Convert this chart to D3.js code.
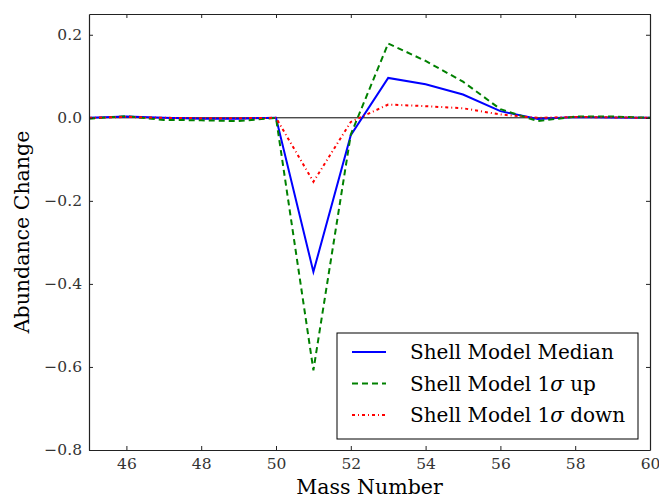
<!DOCTYPE html>
<html>
<head>
<meta charset="utf-8">
<script src="https://cdn.jsdelivr.net/npm/d3@7"></script>
<style>
  body { margin: 0; background: #fff; }
  text { font-family: "DejaVu Serif", "Liberation Serif", serif; }
</style>
</head>
<body>
<svg id="chart" width="659" height="500"></svg>
<script>
// mass numbers and abundance changes
const massNumbers = [45, 46, 47, 48, 49, 50, 51, 52, 53, 54, 55, 56, 57, 58, 59, 60];
const median   = [0.000, 0.003, 0.000, -0.002, -0.002, 0.000, -0.371, -0.042, 0.096, 0.081, 0.056, 0.016, -0.003, 0.002, 0.001, 0.000];
const sigmaUp  = [-0.002, 0.004, -0.005, -0.006, -0.008, 0.000, -0.608, -0.040, 0.179, 0.137, 0.087, 0.021, -0.008, 0.003, 0.003, 0.000];
const sigmaDn  = [0.000, 0.002, 0.000, -0.001, -0.001, 0.000, -0.154, -0.010, 0.032, 0.028, 0.023, 0.008, 0.000, 0.002, 0.001, 0.000];
const xTicks = [46, 48, 50, 52, 54, 56, 58, 60];
const yTicks = [-0.8, -0.6, -0.4, -0.2, 0.0, 0.2];

const svg = d3.select("#chart");
const margin = {left: 89, right: 9, top: 14, bottom: 50};
const width = 659, height = 500;

const x = d3.scaleLinear().domain([45, 60]).range([margin.left, width - margin.right]);
const y = d3.scaleLinear().domain([-0.8, 0.25]).range([height - margin.bottom, margin.top]);

const fmtY = d => d === 0 ? "0.0" : (d < 0 ? "\u2212" + Math.abs(d).toFixed(1) : d.toFixed(1));

// zero line
svg.append("line")
    .attr("x1", x(45)).attr("x2", x(60))
    .attr("y1", y(0)).attr("y2", y(0))
    .attr("stroke", "black").attr("stroke-width", 1);

// series
const series = [
  {name: "median", vals: median, color: "blue", dash: null},
  {name: "up", vals: sigmaUp, color: "green", dash: "6,4"},
  {name: "down", vals: sigmaDn, color: "red", dash: "3,3,1,3"}
];

const line = d3.line().x(d => x(d[0])).y(d => y(d[1]));

svg.append("defs").append("clipPath").attr("id", "clip")
  .append("rect")
    .attr("x", x(45)).attr("y", y(0.25))
    .attr("width", x(60) - x(45)).attr("height", y(-0.8) - y(0.25));

svg.append("g").attr("clip-path", "url(#clip)")
  .selectAll("path")
  .data(series)
  .enter().append("path")
    .attr("d", s => line(massNumbers.map((m, i) => [m, s.vals[i]])))
    .attr("fill", "none")
    .attr("stroke", s => s.color)
    .attr("stroke-width", 2)
    .attr("stroke-dasharray", s => s.dash);

// axes (ticks pointing inward on all four sides)
const axBottom = svg.append("g")
    .attr("transform", `translate(0,${y(-0.8)})`)
    .call(d3.axisBottom(x).tickValues(xTicks).tickSizeInner(-4).tickSizeOuter(0).tickPadding(8));
const axTop = svg.append("g")
    .attr("transform", `translate(0,${y(0.25)})`)
    .call(d3.axisTop(x).tickValues(xTicks).tickSizeInner(-4).tickSizeOuter(0).tickFormat(""));
const axLeft = svg.append("g")
    .attr("transform", `translate(${x(45)},0)`)
    .call(d3.axisLeft(y).tickValues(yTicks).tickSizeInner(-4).tickSizeOuter(0).tickPadding(7).tickFormat(fmtY));
const axRight = svg.append("g")
    .attr("transform", `translate(${x(60)},0)`)
    .call(d3.axisRight(y).tickValues(yTicks).tickSizeInner(-4).tickSizeOuter(0).tickFormat(""));

[axBottom, axTop, axLeft, axRight].forEach(g => {
  g.select(".domain").attr("stroke", "#222").attr("stroke-width", 1.2);
  g.selectAll(".tick line").attr("stroke", "#222").attr("stroke-width", 1);
  g.selectAll(".tick text")
    .attr("fill", "#333")
    .style("font-family", "'DejaVu Serif', serif")
    .style("font-size", "15.5px");
});

// axis labels
svg.append("text")
    .attr("x", (x(45) + x(60)) / 2)
    .attr("y", 494)
    .attr("text-anchor", "middle")
    .style("font-size", "20.5px")
    .text("Mass Number");

svg.append("text")
    .attr("transform", `translate(29,${(y(0.25) + y(-0.8)) / 2}) rotate(-90)`)
    .attr("text-anchor", "middle")
    .style("font-size", "20.5px")
    .text("Abundance Change");

// legend
const legend = svg.append("g");
legend.append("rect")
    .attr("x", 337).attr("y", 333)
    .attr("width", 301).attr("height", 106)
    .attr("fill", "white").attr("stroke", "black").attr("stroke-width", 1);

const labels = [
  {main: "Shell Model Median", sigma: false},
  {main: "Shell Model 1", sigma: true, tail: " up"},
  {main: "Shell Model 1", sigma: true, tail: " down"}
];

labels.forEach((lb, i) => {
  const cy = 352 + i * 31.5;
  legend.append("line")
      .attr("x1", 352).attr("x2", 386)
      .attr("y1", cy).attr("y2", cy)
      .attr("stroke", series[i].color)
      .attr("stroke-width", 2)
      .attr("stroke-dasharray", series[i].dash);
  const t = legend.append("text")
      .attr("x", 410).attr("y", cy + 7)
      .style("font-size", "20px");
  t.append("tspan").text(lb.main);
  if (lb.sigma) {
    t.append("tspan").style("font-style", "italic").text("\u03c3");
    t.append("tspan").text(lb.tail);
  }
});
</script>
</body>
</html>
